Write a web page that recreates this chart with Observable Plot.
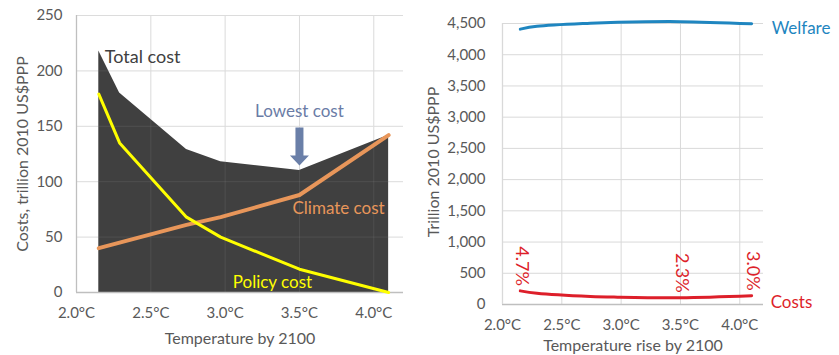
<!DOCTYPE html>
<html><head><meta charset="utf-8">
<script src="https://cdn.jsdelivr.net/npm/d3@7"></script>
<script src="https://cdn.jsdelivr.net/npm/@observablehq/plot@0.6"></script>
<style>
body{margin:0;background:#fff;}
#wrap{position:relative;width:839px;height:355px;overflow:hidden;background:#fff;font-family:Lato,sans-serif}
#left{position:absolute;left:0;top:0}
#right{position:absolute;left:420px;top:0}
</style></head><body>
<div id="wrap"><div id="left"></div><div id="right"></div></div>
<script>
// ---- data ----
const temperatures = [2.15, 2.29, 2.74, 2.97, 3.5, 4.1];
const totalCost   = [218, 180, 129, 118, 110, 142];
const policyCost  = [179, 135, 68, 50, 21, 0];
const climateCost = [40, 45, 61, 68, 88, 142];
const welfare     = [4410, 4455, 4505, 4520, 4530, 4495];
const costShare   = ["4.7%", "", "", "", "2.3%", "3.0%"];
const xTicks = [2.0, 2.5, 3.0, 3.5, 4.0];
const leftYTicks = [0, 50, 100, 150, 200, 250];
const rightYTicks = [0, 500, 1000, 1500, 2000, 2500, 3000, 3500, 4000, 4500];
const xDomain = [2.0, 4.2];
const leftTitle = "Costs, trillion 2010 US$PPP";
const leftXTitle = "Temperature by 2100";
const rightTitle = "Trillion 2010 US$PPP";
const rightXTitle = "Temperature rise by 2100";

const rows = temperatures.map((t, i) => ({
  t, total: totalCost[i], policy: policyCost[i], climate: climateCost[i],
  welfare: welfare[i], share: costShare[i]
}));
const first = rows[0], last = rows[rows.length - 1];
const lowest = rows[d3.minIndex(totalCost)];
const fmtT = d => d.toFixed(1) + "°C";

const gridC = "#d9d9d9", axisC = "#bfbfbf", textC = "#595959";
const font = "Lato, sans-serif";

// block arrow symbol, tip at origin pointing down
const blockArrow = {draw(ctx) {
  ctx.moveTo(0, 0); ctx.lineTo(-9.5, -10); ctx.lineTo(-4, -10); ctx.lineTo(-4, -38);
  ctx.lineTo(4, -38); ctx.lineTo(4, -10); ctx.lineTo(9.5, -10); ctx.closePath();
}};

const left = Plot.plot({
  width: 420, height: 355,
  marginLeft: 76, marginRight: 17, marginTop: 15, marginBottom: 63,
  style: {fontFamily: font, fontSize: "15px", color: textC, background: "transparent", overflow: "visible"},
  x: {domain: xDomain},
  y: {domain: [0, 250]},
  marks: [
    Plot.gridX(xTicks, {stroke: gridC, strokeOpacity: 1}),
    Plot.gridY(leftYTicks, {stroke: gridC, strokeOpacity: 1}),
    Plot.areaY(rows, {x: "t", y: "total", fill: "#404040"}),
    Plot.gridX(xTicks, {stroke: "#fff", strokeOpacity: 0.08}),
    Plot.gridY(leftYTicks, {stroke: "#fff", strokeOpacity: 0.08}),
    Plot.ruleY([0], {stroke: axisC, strokeWidth: 1.3}),
    Plot.ruleX([xDomain[0]], {stroke: axisC, strokeWidth: 1.3}),
    Plot.line(rows, {x: "t", y: "climate", stroke: "#e8965a", strokeWidth: 4}),
    Plot.line(rows, {x: "t", y: "policy", stroke: "#ffff00", strokeWidth: 3}),
    Plot.axisX(xTicks, {tickSize: 0, tickPadding: 15, tickFormat: fmtT, label: null, fill: textC}),
    Plot.axisY(leftYTicks, {tickSize: 0, tickPadding: 14, label: null, fill: textC}),
    Plot.text([leftTitle], {frameAnchor: "left", textAnchor: "middle", lineAnchor: "middle", rotate: -90, dx: -54, fontSize: 16, fill: textC}),
    Plot.text([leftXTitle], {frameAnchor: "bottom", lineAnchor: "middle", dy: 46, fontSize: 16, fill: textC}),
    Plot.text([first], {x: "t", y: "total", text: () => "Total cost", textAnchor: "start", dx: 6, dy: 6, fontSize: 18, fill: "#404040"}),
    Plot.dot([lowest], {x: "t", y: "total", symbol: blockArrow, fill: "#6a7fa8", stroke: "none", dy: -5}),
    Plot.text([lowest], {x: "t", y: "total", text: () => "Lowest cost", dy: -59, fontSize: 17, fill: "#6a7ca6"}),
    Plot.text([lowest], {x: "t", y: "climate", text: () => "Climate cost", textAnchor: "start", dx: -7, dy: 14, fontSize: 17, fill: "#e8965a"}),
    Plot.text([lowest], {x: "t", y: "policy", text: () => "Policy cost", dx: -27, dy: 13, fontSize: 17, fill: "#ffff00"})
  ]
});
document.getElementById("left").append(left);

const right = Plot.plot({
  width: 419, height: 355,
  marginLeft: 82, marginRight: 76, marginTop: 23, marginBottom: 51,
  style: {fontFamily: font, fontSize: "15px", color: textC, background: "transparent", overflow: "visible"},
  x: {domain: xDomain},
  y: {domain: [0, 4500]},
  marks: [
    Plot.gridX(xTicks, {stroke: gridC, strokeOpacity: 1}),
    Plot.gridY(rightYTicks, {stroke: gridC, strokeOpacity: 1}),
    Plot.ruleY([0], {stroke: axisC, strokeWidth: 1.3}),
    Plot.ruleX([xDomain[0]], {stroke: gridC, strokeWidth: 1.3}),
    Plot.line(rows, {x: "t", y: "welfare", stroke: "#1f86c0", strokeWidth: 3, curve: "catmull-rom"}),
    Plot.line(rows, {x: "t", y: "total", stroke: "#dd1f2a", strokeWidth: 3, curve: "catmull-rom"}),
    Plot.axisX(xTicks, {tickSize: 0, tickPadding: 15, tickFormat: fmtT, label: null, fill: textC}),
    Plot.axisY(rightYTicks, {tickSize: 0, tickPadding: 17, tickFormat: d3.format(","), label: null, fill: textC}),
    Plot.text([rightTitle], {frameAnchor: "left", textAnchor: "middle", lineAnchor: "middle", rotate: -90, dx: -69, dy: -2, fontSize: 16, fill: textC}),
    Plot.text([rightXTitle], {frameAnchor: "bottom", lineAnchor: "middle", dy: 41, fontSize: 16, fill: textC}),
    Plot.text(rows.filter(d => d.share), {x: "t", y: "total", text: "share", rotate: 90, textAnchor: "end", lineAnchor: "middle", dx: 1, dy: -5, fontSize: 18, fill: "#dd1f2a"}),
    Plot.text([last], {x: "t", y: "welfare", text: () => "Welfare", textAnchor: "start", dx: 20, dy: 5, fontSize: 17, fill: "#1f86c0"}),
    Plot.text([last], {x: "t", y: "total", text: () => "Costs", textAnchor: "start", dx: 19, dy: 7, fontSize: 17, fill: "#dd1f2a"})
  ]
});
document.getElementById("right").append(right);
</script>
</body></html>
